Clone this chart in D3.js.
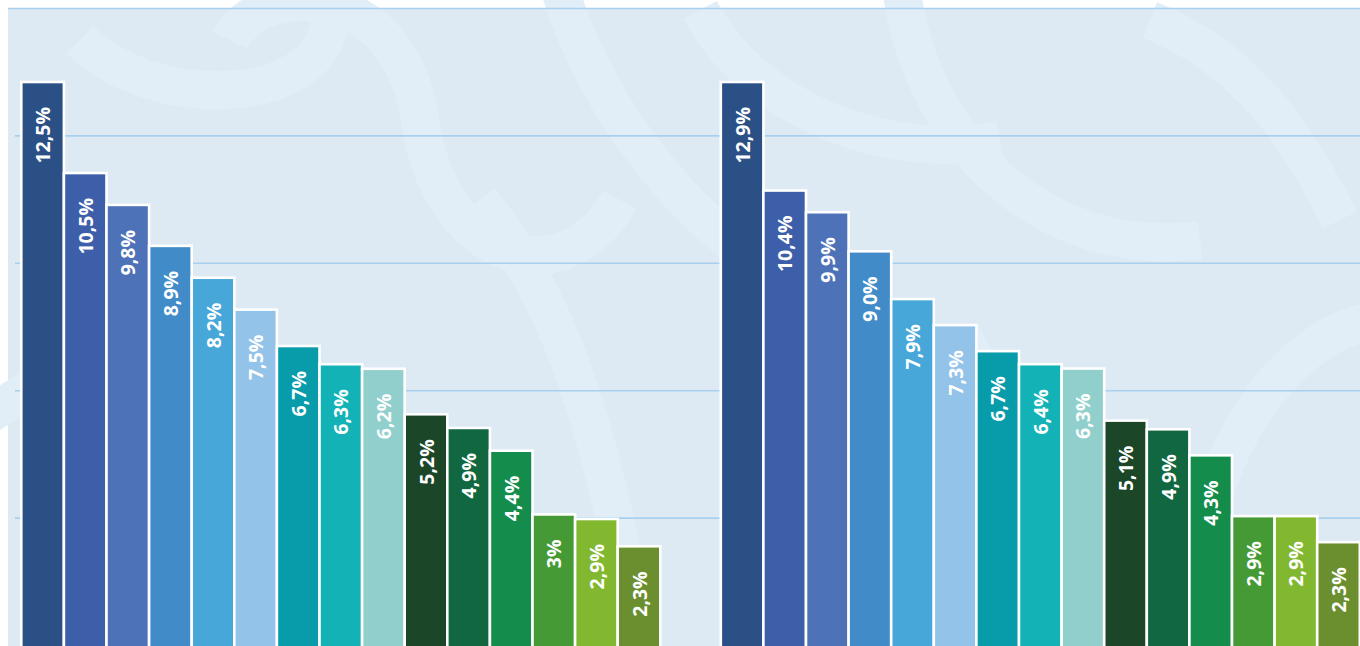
<!DOCTYPE html>
<html><head><meta charset="utf-8">
<script src="https://cdn.jsdelivr.net/npm/d3@7"></script>
<style>html,body{margin:0;padding:0;background:#fff;overflow:hidden}</style>
</head><body>
<svg id="chart" width="1360" height="646"></svg>
<script>
const categories = ["C1","C2","C3","C4","C5","C6","C7","C8","C9","C10","C11","C12","C13","C14","C15"];
const leftValues  = [12.5, 10.5, 9.8, 8.9, 8.2, 7.5, 6.7, 6.3, 6.2, 5.2, 4.9, 4.4, 3.0, 2.9, 2.3];
const leftLabels  = ["12,5%","10,5%","9,8%","8,9%","8,2%","7,5%","6,7%","6,3%","6,2%","5,2%","4,9%","4,4%","3%","2,9%","2,3%"];
const rightValues = [12.9, 10.4, 9.9, 9.0, 7.9, 7.3, 6.7, 6.4, 6.3, 5.1, 4.9, 4.3, 2.9, 2.9, 2.3];
const rightLabels = ["12,9%","10,4%","9,9%","9,0%","7,9%","7,3%","6,7%","6,4%","6,3%","5,1%","4,9%","4,3%","2,9%","2,9%","2,3%"];
const colors = ["#2B5086","#3D5EA8","#4D72B7","#418CC8","#47A7D8","#94C3EA","#089BAA","#12B2B6","#91CFCD","#1B4628","#11673F","#138C4C","#459A35","#82B82F","#6B8F2F"];
const gridTicks = [1, 2, 3, 4, 5];

const svg = d3.select("#chart");
const W = 1360, H = 646;

// background panel
svg.append("rect").attr("x",8).attr("y",8).attr("width",W-8).attr("height",H-8).attr("fill","#DDEAF4");

// subtle decorative swirls
const deco = svg.append("g").attr("fill","none").attr("stroke","#E1EEF7").attr("stroke-width",38);
deco.append("path").attr("d","M80,40 C150,110 320,110 330,20");
deco.append("path").attr("d","M230,40 C260,-20 400,-20 420,120 C440,260 560,300 620,200");
deco.append("path").attr("d","M560,-10 C600,120 700,230 760,260");
deco.append("path").attr("d","M700,10 C760,120 900,160 1000,140");
deco.append("path").attr("d","M900,-20 C920,150 1050,260 1200,240");
deco.append("path").attr("d","M1150,20 C1250,60 1300,140 1340,220");
deco.append("path").attr("d","M1200,646 C1180,480 1280,330 1380,320");
deco.append("path").attr("d","M480,200 C560,300 600,420 640,646");
deco.append("path").attr("d","M-20,420 C80,360 140,300 220,330");
deco.append("path").attr("d","M960,330 C1000,420 1080,470 1150,480");

// grid
const gy = d3.scaleLinear().domain([0,5]).range([645.5, 8.5]);
svg.append("g").selectAll("line").data(gridTicks).join("line")
  .attr("x1", d => d === 5 ? 8 : 15).attr("x2", W)
  .attr("y1", d => gy(d)).attr("y2", d => gy(d))
  .attr("stroke","#A8D0EE").attr("stroke-width",1.6);

function panel(values, labels, x0, x1, baseline) {
  const x = d3.scaleBand().domain(categories).range([x0, x1]).padding(0);
  const y = d3.scaleLinear().domain([0, d3.max(values)]).range([baseline, 82]);
  const g = svg.append("g");
  g.selectAll("rect").data(values).join("rect")
    .attr("x", (d,i) => x(categories[i]))
    .attr("y", d => y(d))
    .attr("width", x.bandwidth())
    .attr("height", d => H + 10 - y(d))
    .attr("fill", (d,i) => colors[i])
    .attr("stroke","#fff").attr("stroke-width",2.6);
  g.selectAll("text").data(values).join("text")
    .attr("transform", (d,i) => `translate(${x(categories[i]) + x.bandwidth()/2 + 0.5},${y(d) + 25}) rotate(-90)`)
    .attr("text-anchor","end")
    .attr("dy","0.36em")
    .attr("fill","#fff")
    .attr("font-family","'Open Sans', sans-serif")
    .attr("font-weight","bold")
    .attr("font-size",19.5)
    .text((d,i) => labels[i]);
}
panel(leftValues, leftLabels, 21.3, 660.3, 651);
panel(rightValues, rightLabels, 720.8, 1359.8, 642);
</script>
</body></html>
